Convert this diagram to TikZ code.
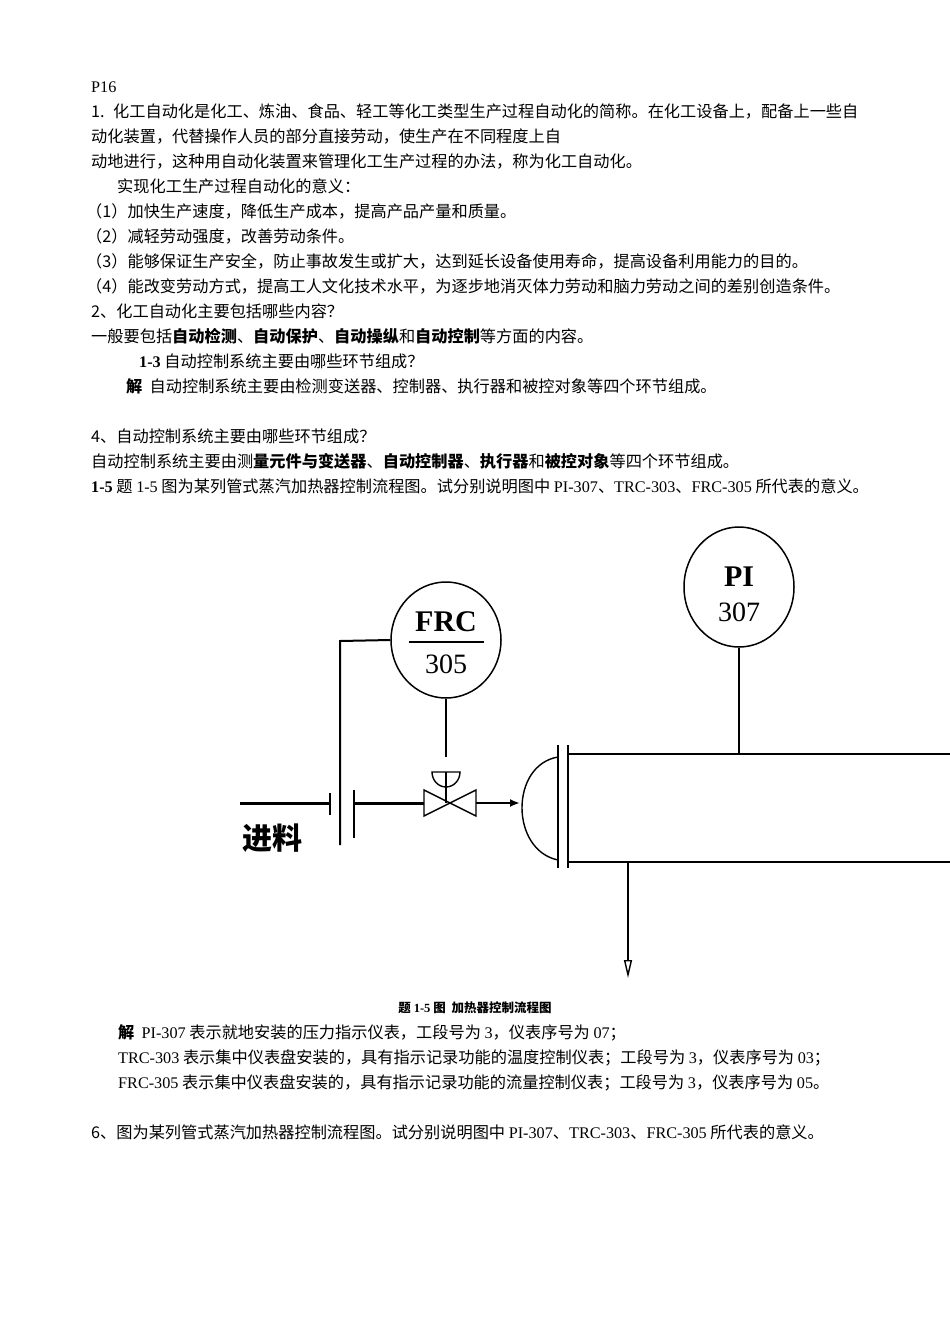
\documentclass[tikz,border=0pt]{standalone}
\usepackage{fontspec}
\setmainfont{Noto Sans CJK SC}
\newfontfamily\latinf{Liberation Serif}
\usetikzlibrary{arrows.meta,shapes.geometric}
\begin{document}
\begin{tikzpicture}[x=1pt,y=-1pt,
  txt/.style={anchor=base west,inner sep=0pt,font=\fontsize{16.2}{16}\selectfont},
  pipe/.style={line width=1.4pt},
  thick2/.style={line width=3pt}]
\useasboundingbox[fill=white] (0,0) rectangle (950,1344);
\node[txt] (l0) at (91,92) {\latinf P16};
\node[txt] (l1) at (91,117) {1. \ 化工自动化是化工、炼油、食品、轻工等化工类型生产过程自动化的简称。在化工设备上，配备上一些自};
\node[txt] (l2) at (91,142) {动化装置，代替操作人员的部分直接劳动，使生产在不同程度上自};
\node[txt] (l3) at (91,167) {动地进行，这种用自动化装置来管理化工生产过程的办法，称为化工自动化。};
\node[txt] (l4) at (117,192) {实现化工生产过程自动化的意义：};
\node[txt] (l5) at (86,217) {（1）加快生产速度，降低生产成本，提高产品产量和质量。};
\node[txt] (l6) at (86,242) {（2）减轻劳动强度，改善劳动条件。};
\node[txt] (l7) at (86,267) {（3）能够保证生产安全，防止事故发生或扩大，达到延长设备使用寿命，提高设备利用能力的目的。};
\node[txt] (l8) at (86,292) {（4）能改变劳动方式，提高工人文化技术水平，为逐步地消灭体力劳动和脑力劳动之间的差别创造条件。};
\node[txt] (l9) at (91,317) {2、化工自动化主要包括哪些内容？};
\node[txt] (l10) at (91,342) {一般要包括\textbf{自动检测}、\textbf{自动保护}、\textbf{自动操纵}和\textbf{自动控制}等方面的内容。};
\node[txt] (l11) at (139,367) {\textbf{\latinf 1-3} 自动控制系统主要由哪些环节组成？};
\node[txt] (l12) at (126,392) {\textbf{解}\ \ 自动控制系统主要由检测变送器、控制器、执行器和被控对象等四个环节组成。};
\node[txt] (l13) at (91,442) {4、自动控制系统主要由哪些环节组成？};
\node[txt] (l14) at (91,467) {自动控制系统主要由测\textbf{量元件与变送器}、\textbf{自动控制器}、\textbf{执行器}和\textbf{被控对象}等四个环节组成。};
\node[txt] (l15) at (91,492) {\textbf{\latinf 1-5} 题 {\latinf 1-5} 图为某列管式蒸汽加热器控制流程图。试分别说明图中 {\latinf PI-307}、{\latinf TRC-303}、{\latinf FRC-305} 所代表的意义。};
% diagram
\node[draw,ellipse,minimum width=110pt,minimum height=116pt,line width=1.5pt,inner sep=0pt] (frc) at (446,640) {};
\node[font=\latinf\bfseries\fontsize{30}{30}\selectfont] (frct) at (446,622) {FRC};
\node[font=\latinf\fontsize{28}{28}\selectfont] (frcb) at (446,664) {305};
\draw[line width=2pt] (409,642) -- (484,642);
\node[draw,ellipse,minimum width=110pt,minimum height=120pt,line width=1.5pt,inner sep=0pt] (pi) at (739,587) {};
\node[font=\latinf\bfseries\fontsize{30}{30}\selectfont] (pit) at (739,577) {PI};
\node[font=\latinf\fontsize{28}{28}\selectfont] (pib) at (739,612) {307};
\node[font=\bfseries\fontsize{30}{30}\selectfont,inner sep=0pt] (feed) at (272,838) {进料};
\coordinate (f0) at (240,803); \coordinate (f1) at (330,803);
\draw[thick2] (f0) -- (f1);
\draw[pipe] (330,793) -- (330,815);
\draw[line width=2pt] (340,845) -- (340,641) -- (frc.west);
\draw[line width=2pt] (354,790) -- (354,838);
\coordinate (v) at (450,803);
\draw[thick2] (354,803) -- (424,803);
\draw[pipe] (424,790) -- (476,816) -- (476,790) -- (424,816) -- cycle;
\draw[pipe] (frc.south) -- (446,757);
\draw[pipe] (432,772) arc (180:0:14 and 15) -- cycle;
\draw[pipe] (446,772) -- (446,803);
\draw[line width=2.5pt,-{Latex[length=10pt,width=8pt]}] (476,803) -- (520,803);
\draw[pipe] (558,757) .. controls (510,765) and (510,850) .. (558,860);
\draw[line width=1.6pt] (558,745) -- (558,868);
\draw[line width=1.6pt] (568,745) -- (568,868);
\draw[line width=1.8pt] (568,754) -- (950,754);
\draw[line width=1.8pt] (568,862) -- (950,862);
\draw[pipe] (pi.south) -- (739,754);
\draw[pipe,-{Triangle[open,length=18pt,width=8pt]}] (628,862) -- (628,978);
\node[txt,anchor=base,font=\bfseries\fontsize{12.5}{12}\selectfont] (cap) at (475,1012) {题 {\latinf 1-5} 图 \ 加热器控制流程图};
\node[txt] (a1) at (118,1038) {\textbf{解}\ \ {\latinf PI-307} 表示就地安装的压力指示仪表，工段号为 {\latinf 3}，仪表序号为 {\latinf 07}；};
\node[txt] (a2) at (118,1063) {{\latinf TRC-303} 表示集中仪表盘安装的，具有指示记录功能的温度控制仪表；工段号为 {\latinf 3}，仪表序号为 {\latinf 03}；};
\node[txt] (a3) at (118,1088) {{\latinf FRC-305} 表示集中仪表盘安装的，具有指示记录功能的流量控制仪表；工段号为 {\latinf 3}，仪表序号为 {\latinf 05}。};
\node[txt] (a4) at (91,1138) {6、图为某列管式蒸汽加热器控制流程图。试分别说明图中 {\latinf PI-307}、{\latinf TRC-303}、{\latinf FRC-305} 所代表的意义。};
\end{tikzpicture}
\end{document}
